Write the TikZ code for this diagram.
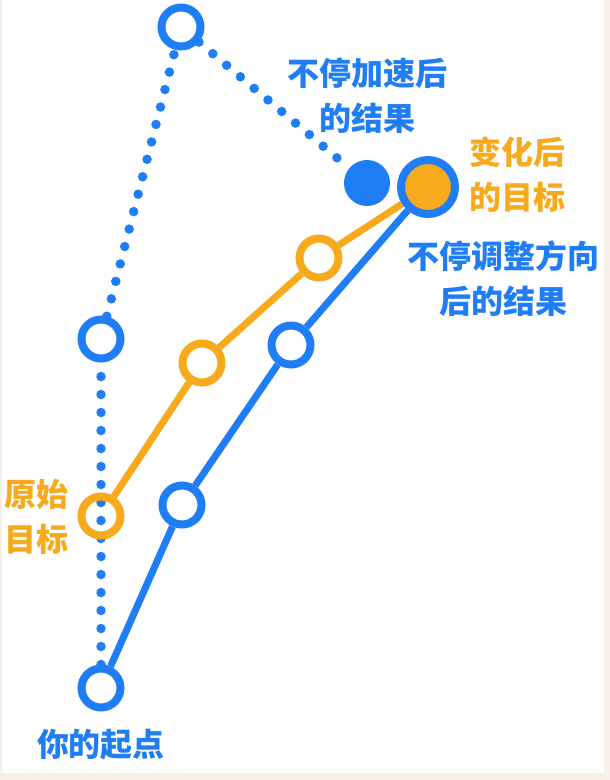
\documentclass[tikz,border=0pt]{standalone}
\usepackage{fontspec}
\usepackage[x11names, rgb]{xcolor}
\usetikzlibrary{backgrounds}
\newfontfamily\cjk{Noto Sans CJK SC}
\definecolor{runblue}{HTML}{1F7DF6}
\definecolor{goalorange}{HTML}{F6AA1C}
\definecolor{frame}{HTML}{F8F0E6}

\tikzset{
  ring/.style = {circle, draw = runblue, line width = 8pt, fill = white, minimum size = 39pt, inner sep = 0pt},
  oring/.style = {ring, draw = goalorange, fill = none},
  blob/.style = {circle, fill = runblue, minimum size = 46pt, inner sep = 0pt},
  dotline/.style = {runblue, line width = 9.5pt, line cap = round, dash pattern = on 0pt off 18pt},
  runline/.style = {line width = 7pt},
  lbl/.style = {font = \cjk\bfseries\fontsize{32}{45}\selectfont, align = center}
}

\begin{document}
\begin{tikzpicture}[x = 1pt, y = -1pt]
\useasboundingbox (0,0) rectangle (610,780);

% steps without correction
\node[ring] (n0) at (101,688) {};
\node[ring] (n0u) at (101,339) {};
\node[ring] (n0uu) at (181,27) {};
\node[blob] (nAcc) at (367,183) {};

% target moves
\node[oring] (g0) at (101,516) {};
\node[oring] (g1) at (202,363) {};
\node[oring] (g2) at (319,258) {};

% steps with correction
\node[ring] (n1) at (182,505) {};
\node[ring] (n2) at (291,345) {};
\node[ring, fill = goalorange, minimum size = 54pt] (nGoal) at (428,187) {};

\node[lbl, text = runblue] (tAcc) at (367,96) {不停加速后\\的结果};
\node[lbl, text = goalorange] (tGoal) at (517,175) {变化后\\的目标};
\node[lbl, text = runblue] (tTurn) at (503,279) {不停调整方向\\后的结果};
\node[lbl, text = goalorange] (tOrg) at (37,517) {原始\\目标};
\node[lbl, text = runblue] (tStart) at (101,745) {你的起点};

\begin{scope}[on background layer]
\fill[frame] (0,0) rectangle (610,780);
\fill[white] (2,0) rectangle (604,773);

\draw[dotline] (n0) -- (n0u);
\draw[dotline] (n0u) -- (n0uu);
\draw[dotline] (n0uu) -- (nAcc);

\draw[runline, goalorange] (g0) -- (g1) -- (g2) -- (nGoal);
\draw[runline, runblue] (n0) -- (n1) -- (n2) -- (nGoal);
\end{scope}

\end{tikzpicture}
\end{document}
